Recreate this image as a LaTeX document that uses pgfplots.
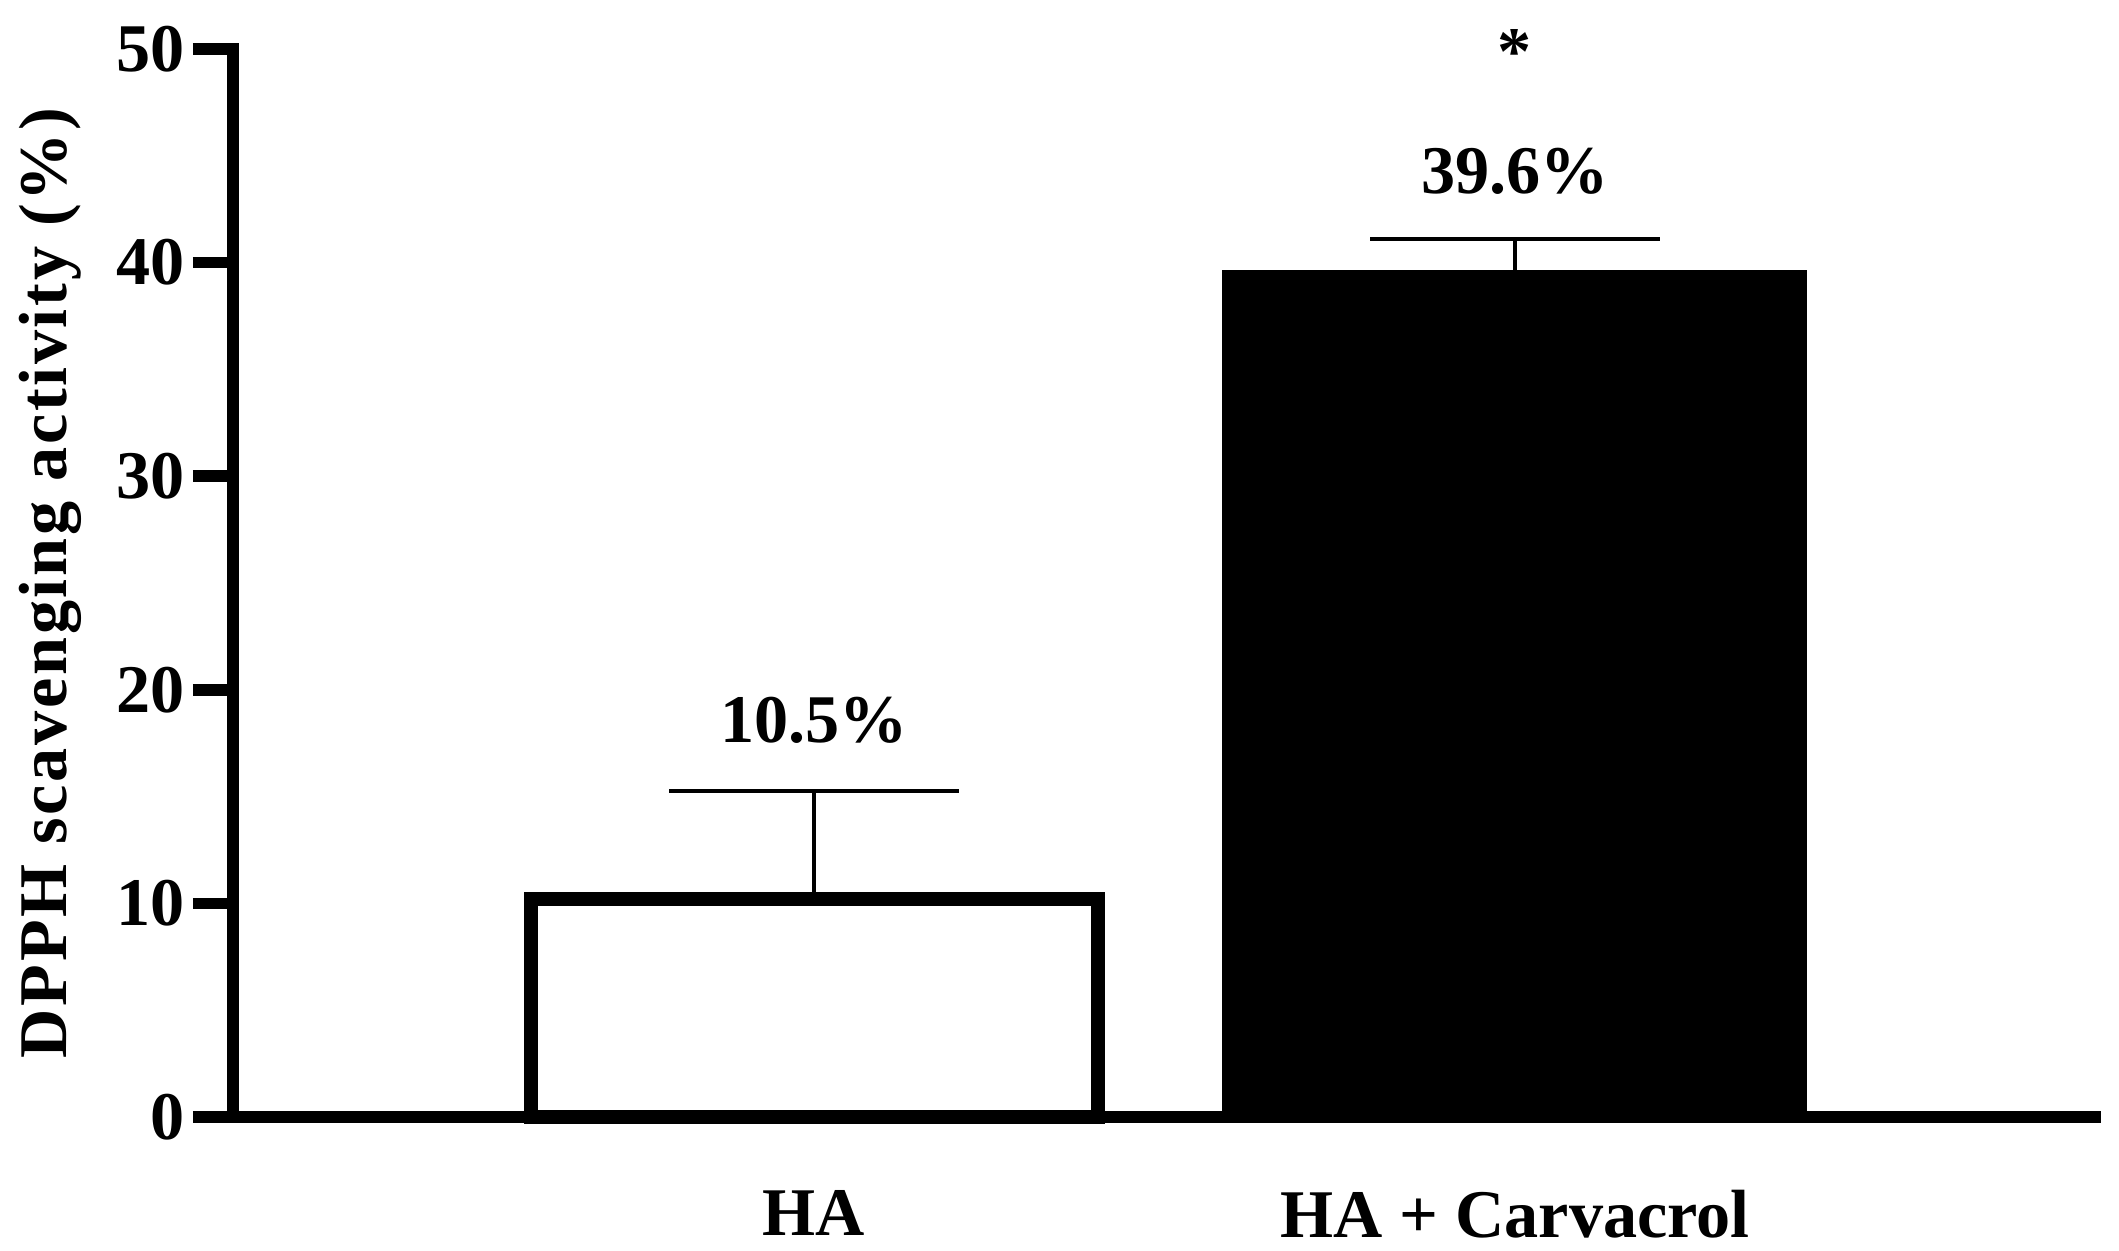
\documentclass[border=0pt]{standalone}
\usepackage{fontspec}
\setmainfont{Liberation Serif}
\usepackage{pgfplots}
\pgfplotsset{compat=1.18}
\newcommand{\lbl}{\fontsize{14.6}{17.5}\selectfont\bfseries}

\begin{document}
\begin{tikzpicture}
% page size fixed to the reference proportions
\path[use as bounding box] (-49.88pt,-28.68pt) rectangle (403.7pt,239.1pt);
\begin{axis}[
    scale only axis,
    width=398.6pt, height=228.6pt,
    xmin=-0.829, xmax=1.828,
    ymin=0, ymax=50,
    axis lines=left,
    axis line style={-, line width=2.6pt, line cap=rect},
    xtick={0,1},
    xticklabels={HA, HA + Carvacrol},
    ytick={0,10,20,30,40,50},
    tick align=outside,
    major tick length=8.6pt,
    ytick style={line width=2.5pt, black},
    xtick style={draw=none},
    /pgf/number format/assume math mode=true,
    ticklabel style={font=\lbl},
    yticklabel style={inner sep=1.5pt},
    xticklabel style={yshift=-3.5pt},
    ylabel={DPPH scavenging activity (\%)},
    ylabel style={font=\lbl\addfontfeatures{LetterSpace=4}, at={(axis description cs:-0.098,0.5)}, anchor=center},
    clip=false,
    error bars/y dir=plus,
    error bars/y explicit,
    error bars/error bar style={line width=0.8pt, draw=black},
    error bars/error mark options={rotate=90, mark size=31pt, line width=0.8pt, draw=black},
]
\addplot[ybar, bar width=0.809, bar shift=0pt, draw=black, line width=3pt, fill=white]
  coordinates {(0,10.2) +- (0,5.05)};
\addplot[ybar, bar width=0.833, bar shift=0pt, draw=black, line width=0.3pt, fill=black]
  coordinates {(1,39.6) +- (0,1.5)};

\node[font=\lbl, anchor=base] at (axis cs:0,17.55) {10.5\%};
\node[font=\lbl, anchor=base] at (axis cs:1,43.26) {39.6\%};
\node[font=\lbl, anchor=north, inner sep=0pt] at (axis cs:1,50.98) {*};
\end{axis}
\end{tikzpicture}
\end{document}
